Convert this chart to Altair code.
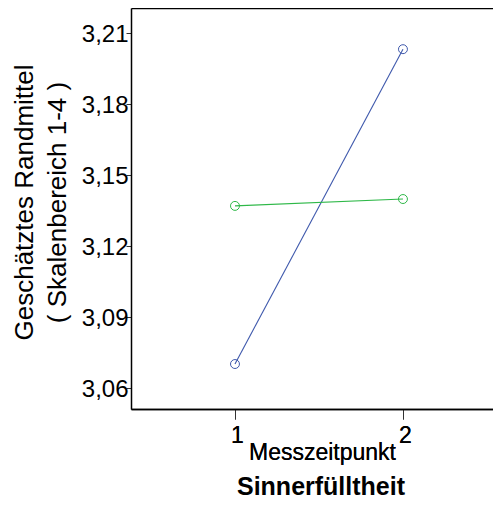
import altair as alt
import pandas as pd

zeitpunkt = [1, 2]
gruppe_a = [3.0701, 3.2031]   # blau
gruppe_b = [3.1369, 3.1398]   # grün
gruppen = ["Gruppe A", "Gruppe B"]
farben = ["#3E58AC", "#2EB848"]
y_ticks = [3.06, 3.09, 3.12, 3.15, 3.18, 3.21]
x_ticks = [1, 2]
x_domain = [0.381, 2.536]
y_domain = [3.0511, 3.2205]

rows = []
for z, a, b in zip(zeitpunkt, gruppe_a, gruppe_b):
    rows.append({"Messzeitpunkt": z, "Wert": a, "Gruppe": gruppen[0]})
    rows.append({"Messzeitpunkt": z, "Wert": b, "Gruppe": gruppen[1]})
df = pd.DataFrame(rows)

FONT = "Liberation Sans"

x_scale = alt.Scale(domain=x_domain, nice=False, zero=False)
y_scale = alt.Scale(domain=y_domain, nice=False, zero=False)

x = alt.X(
    "Messzeitpunkt:Q", scale=x_scale,
    axis=alt.Axis(values=x_ticks, format="d", title="Messzeitpunkt", orient="bottom",
                  grid=False, tickSize=10, tickColor="#333333", labelPadding=5, labelOffset=2,
                  domainColor="black", domainWidth=1.5, labelFontSize=23, titleFontSize=23,
                  titleFontWeight="normal", titleX=191, titleY=50, titleBaseline="alphabetic",
                  titleAlign="center"),
)
y = alt.Y(
    "Wert:Q", scale=y_scale,
    axis=alt.Axis(values=y_ticks, labelExpr="replace(format(datum.value, '.2f'), '.', ',')",
                  title=["Geschätztes Randmittel", "( Skalenbereich 1-4 )"], grid=False,
                  tickSize=5, tickColor="#333333", labelPadding=-2, labelOffset=1.5,
                  labelFontSize=24, domainColor="black", domainWidth=1.5,
                  titleFontSize=26, titleFontWeight="normal", titleAngle=270, titleX=-99,
                  titleY=194, titleAlign="center", titleBaseline="alphabetic",
                  titleLineHeight=33),
)
color = alt.Color("Gruppe:N", scale=alt.Scale(domain=gruppen, range=farben), legend=None)

lines = alt.Chart(df).mark_line(strokeWidth=1.1).encode(x=x, y=y, color=color)
points = alt.Chart(df).mark_point(shape="circle", filled=False, size=80, strokeWidth=1,
                                  opacity=1).encode(x=x, y=y, color=color)
top = alt.Chart(df).mark_point(opacity=0).encode(
    x=alt.X("Messzeitpunkt:Q",
            axis=alt.Axis(orient="top", labels=False, ticks=False, title=None, grid=False,
                          domainColor="black", domainWidth=1.5)),
    y=y,
)

chart = (
    alt.layer(lines, points, top)
    .resolve_axis(x="independent")
    .properties(
        width=362, height=401,
        autosize=alt.AutoSizeParams(type="none"),
        padding={"left": 123, "top": 0, "right": 0, "bottom": 91},
        title=alt.TitleParams("Sinnerfülltheit", orient="bottom", anchor="middle",
                              frame="group", fontSize=25, fontWeight="bold", font=FONT,
                              color="black", offset=11, dx=9),
    )
    .configure_view(stroke=None)
    .configure_axis(labelFont=FONT, titleFont=FONT, labelColor="black", titleColor="black")
)

chart.save("out.html", embed_options={"renderer": "svg", "actions": False})
